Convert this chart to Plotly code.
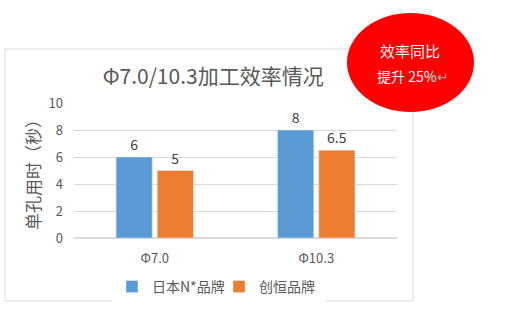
import plotly.graph_objects as go

categories = ["Φ7.0", "Φ10.3"]
series_names = ["日本N*品牌", "创恒品牌"]
japan_values = [6, 8]
chuangheng_values = [5, 6.5]
japan_labels = ["6", "8"]
chuangheng_labels = ["5", "6.5"]
y_ticks = [0, 2, 4, 6, 8, 10]
colors = ["#5B9BD5", "#ED7D31"]

FONT = "Noto Sans CJK SC"
W, H = 510, 317
L, R, T, B = 74, 113, 103, 79
pw, ph = W - L - R, H - T - B


def px(x):
    return (x - L) / pw


def py(y):
    return (H - B - y) / ph


fig = go.Figure()
fig.add_trace(go.Bar(x=categories, y=japan_values, name=series_names[0],
                     marker_color=colors[0], text=japan_labels,
                     textposition="outside", cliponaxis=False,
                     textfont=dict(size=14, color="#404040", family=FONT)))
fig.add_trace(go.Bar(x=categories, y=chuangheng_values, name=series_names[1],
                     marker_color=colors[1], text=chuangheng_labels,
                     textposition="outside", cliponaxis=False,
                     textfont=dict(size=14, color="#404040", family=FONT)))

fig.update_layout(
    width=W, height=H,
    margin=dict(l=L, r=R, t=T, b=B),
    paper_bgcolor="white", plot_bgcolor="white",
    barmode="group", bargap=0.49, bargroupgap=0.12,
    font=dict(family=FONT, color="#595959"),
    showlegend=True,
    legend=dict(orientation="h", x=px(112), y=py(287), yanchor="middle",
                xanchor="left", font=dict(size=14, color="#595959", family=FONT),
                entrywidth=62, entrywidthmode="pixels", tracegroupgap=0),
    xaxis=dict(showgrid=False, showline=True, linecolor="#d9d9d9",
               tickfont=dict(size=13, color="#595959"), ticks="",
               ticklabelstandoff=8, fixedrange=True),
    yaxis=dict(range=[0, 10], tickvals=y_ticks, showgrid=True,
               gridcolor="#d9d9d9", zeroline=True, zerolinecolor="#d9d9d9",
               tickfont=dict(size=13, color="#595959"), ticks="",
               ticklabelstandoff=10,
               title=dict(text="单孔用时（秒）", font=dict(size=17, color="#595959"),
                          standoff=3)),
    title=dict(text="Φ7.0/10.3加工效率情况", x=px(209), xanchor="center",
               y=1 - 77 / H, yanchor="middle",
               font=dict(size=21, color="#595959", family=FONT)),
)

# chart border
fig.add_shape(type="rect", xref="paper", yref="paper",
              x0=px(5), x1=px(413), y0=py(301), y1=py(49),
              line=dict(color="#d9d9d9", width=1), fillcolor="rgba(0,0,0,0)",
              layer="below")
# red ellipse
fig.add_shape(type="circle", xref="paper", yref="paper",
              x0=px(347), x1=px(474), y0=py(112), y1=py(13),
              line=dict(color="#FF0000", width=0), fillcolor="#FF0000")
fig.add_annotation(xref="paper", yref="paper", x=px(410), y=py(50),
                   xanchor="center", yanchor="middle",
                   text="效率同比", showarrow=False,
                   font=dict(size=15, color="white", family=FONT))
fig.add_annotation(xref="paper", yref="paper", x=px(413), y=py(76),
                   xanchor="center", yanchor="middle",
                   text="提升 25%<span style='color:#a0a0a0'>↵</span>", showarrow=False,
                   font=dict(size=14, color="white", family=FONT))

fig.write_html("out.html")
